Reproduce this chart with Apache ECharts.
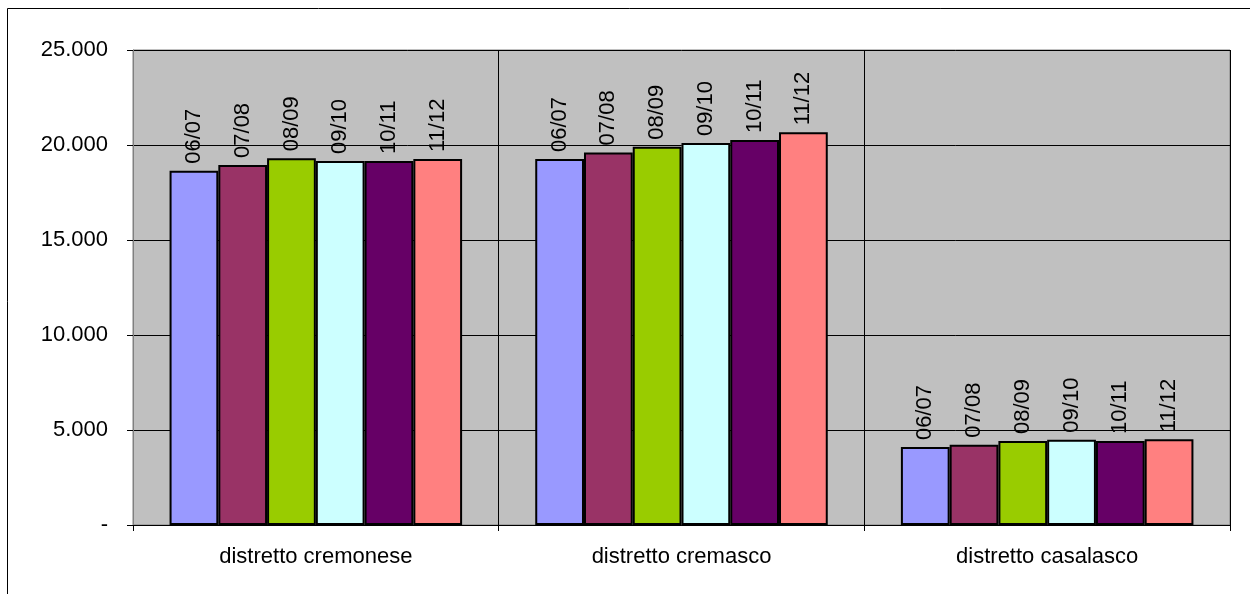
<!DOCTYPE html>
<html><head><meta charset="utf-8">
<script src="https://cdn.jsdelivr.net/npm/echarts@6/dist/echarts.min.js"></script>
<style>html,body{margin:0;padding:0;background:#fff}#c{width:1250px;height:594px}</style>
</head><body><div id="c"></div>
<script>
const categories = ['distretto cremonese', 'distretto cremasco', 'distretto casalasco'];
const years = ['06/07', '07/08', '08/09', '09/10', '10/11', '11/12'];
const v0607 = [18640, 19260, 4100];
const v0708 = [18950, 19610, 4230];
const v0809 = [19300, 19910, 4420];
const v0910 = [19160, 20100, 4490];
const v1011 = [19160, 20260, 4420];
const v1112 = [19260, 20670, 4510];
const seriesValues = [v0607, v0708, v0809, v0910, v1011, v1112];
const colors = ['#9999FF', '#993366', '#99CC00', '#CCFFFF', '#660066', '#FF8080'];

const chart = echarts.init(document.getElementById('c'));
const fmt = v => v === 0 ? '-' : String(v).replace(/\B(?=(\d{3})+(?!\d))/g, '.');
chart.setOption({
  animation: false,
  backgroundColor: '#ffffff',
  textStyle: { fontFamily: 'Liberation Sans, Arial, sans-serif' },
  graphic: [{ type: 'rect', shape: { x: 7.5, y: 8.5, width: 1260, height: 600 }, style: { fill: 'none', stroke: '#000', lineWidth: 1 }, silent: true }],
  grid: { left: 133, right: 20, top: 50, bottom: 69, show: true, backgroundColor: '#C0C0C0', borderColor: '#808080', borderWidth: 1 },
  xAxis: {
    type: 'category', data: categories,
    axisLine: { lineStyle: { color: '#000' } },
    axisTick: { show: true, length: 6, lineStyle: { color: '#000' } },
    splitLine: { show: true, lineStyle: { color: '#000', width: 1 } },
    axisLabel: { color: '#000', fontSize: 22, margin: 21 }
  },
  yAxis: {
    type: 'value', min: 0, max: 25000, interval: 5000,
    axisLine: { show: true, lineStyle: { color: '#808080' } },
    axisTick: { show: true, length: 6, lineStyle: { color: '#000' } },
    splitLine: { show: true, lineStyle: { color: '#000', width: 1 } },
    axisLabel: { color: '#000', fontSize: 22, margin: 25, formatter: fmt }
  },
  series: years.map((y, i) => ({
    name: y, type: 'bar', data: seriesValues[i],
    barGap: '0%', barCategoryGap: '20%',
    itemStyle: { color: colors[i], borderColor: '#000', borderWidth: 2 },
    label: { show: true, position: 'top', rotate: 90, align: 'left', verticalAlign: 'middle', distance: 7,
      formatter: () => y, color: '#000', fontSize: 22 }
  }))
});
</script></body></html>
